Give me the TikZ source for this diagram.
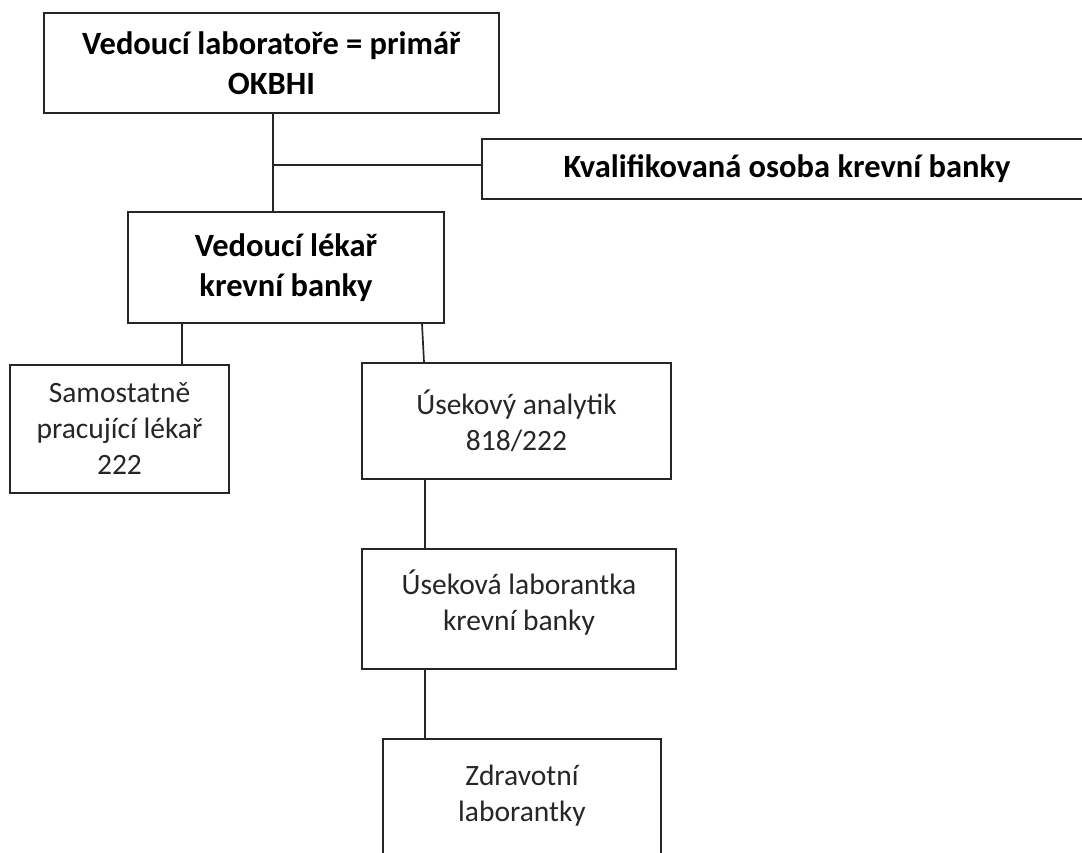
\documentclass[tikz,border=0pt]{standalone}
\usepackage{fontspec}
\setmainfont{Carlito}
\begin{document}
\begin{tikzpicture}[x=1pt,y=-1pt,
  box/.style={draw=black!85,line width=1.7pt,inner sep=0pt,align=center,anchor=center},
  boldtxt/.style={font=\fontsize{32.5}{40}\selectfont\bfseries,text=black},
  normtxt/.style={font=\fontsize{29.5}{36}\selectfont,text=black!85},
  txt/.style={inner sep=0pt,align=center,anchor=center},
  conn/.style={draw=black!85,line width=1.7pt}]
\useasboundingbox (0,0) rectangle (1082,852);
\clip (0,0) rectangle (1082,852);
\fill[white] (0,0) rectangle (1082,852);
% boxes
\node[box,boldtxt,minimum width=455pt,minimum height=100pt] (top) at (271.4,63.2)
  {Vedoucí laboratoře = primář\\OKBHI};
\node[box,boldtxt,minimum width=610pt,minimum height=60pt] (kval) at (787,169)
  {Kvalifikovaná osoba krevní banky};
\node[box,boldtxt,minimum width=316pt,minimum height=111pt] (lek) at (286,267.5)
  {Vedoucí lékař\\krevní banky};
\node[box,normtxt,minimum width=219pt,minimum height=128pt] (sam) at (119.5,429)
  {Samostatně\\pracující lékař\\222};
\node[box,normtxt,minimum width=309pt,minimum height=116pt] (use) at (516.5,421)
  {Úsekový analytik\\818/222};
\node[box,minimum width=314pt,minimum height=120pt] (lab) at (519,609) {};
\node[txt,normtxt] (labt) at ([yshift=6pt]lab.center)
  {Úseková laborantka\\krevní banky};
\node[box,minimum width=278pt,minimum height=120pt] (zdr) at (522,799) {};
\node[txt,normtxt] (zdrt) at ([yshift=3pt]zdr.center)
  {Zdravotní\\laborantky};
% connectors
\coordinate (j) at ([xshift=1.3pt]top.south |- 0,165);
\draw[conn] ([xshift=1.3pt]top.south) -- ([xshift=1.3pt]top.south |- lek.north);
\draw[conn] (j) -- (j -| kval.west);
\draw[conn] ([xshift=62.5pt]sam.north) -- ([xshift=62.5pt]sam.north |- lek.south);
\draw[conn] ([xshift=136pt]lek.south) -- ([xshift=-92.5pt]use.north);
\draw[conn] ([xshift=-91.5pt]use.south) -- ([xshift=-91.5pt]use.south |- lab.north);
\draw[conn] ([xshift=-94pt]lab.south) -- ([xshift=-94pt]lab.south |- zdr.north);
\end{tikzpicture}
\end{document}
